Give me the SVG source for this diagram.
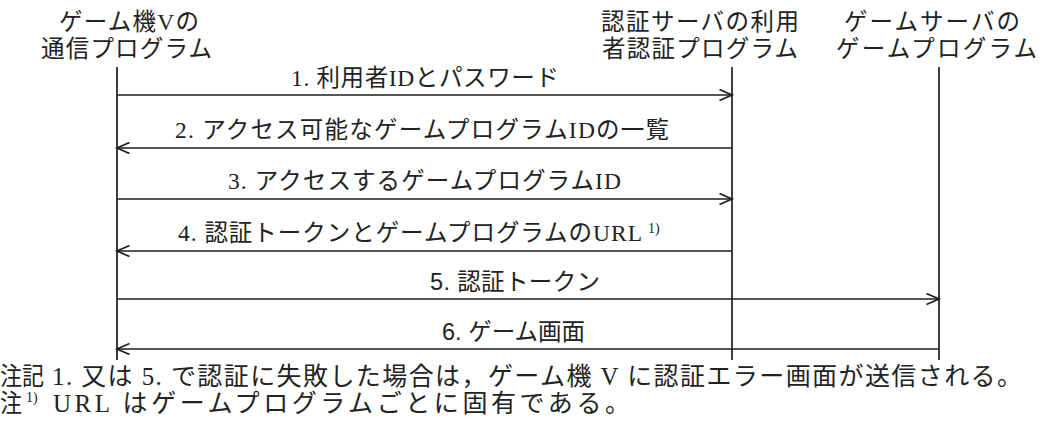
<svg xmlns="http://www.w3.org/2000/svg" width="1040" height="432" viewBox="0 0 1040 432">
  <style>
    .bg { fill: #ffffff; }
    .life { stroke: #1e1e1e; stroke-width: 1.7; fill: none; }
    .msg { stroke: #1e1e1e; stroke-width: 1.7; fill: none; }
    .t { font-family: "Liberation Serif", "Noto Sans CJK JP", serif; font-size: 23.5px; fill: #222; }
    .ts { font-family: "Liberation Sans", "Noto Sans CJK JP", sans-serif; font-size: 23.5px; fill: #222; }
    .n { font-family: "Liberation Serif", "Noto Sans CJK JP", serif; font-size: 25px; fill: #222; }
    .sup { font-family: "Liberation Serif", "Noto Sans CJK JP", serif; font-size: 14px; fill: #222; }
  </style>
  <defs>
    <marker id="arr" markerUnits="userSpaceOnUse" markerWidth="16" markerHeight="14" refX="13" refY="6" orient="auto">
      <path d="M0.5,0.5 L13,6 L0.5,11.5" fill="none" stroke="#1e1e1e" stroke-width="1.7"/>
    </marker>
  </defs>
  <rect class="bg" x="0" y="0" width="1040" height="432"/>

  <g id="game-console">
    <text class="t" x="59" y="30" textLength="140" lengthAdjust="spacing">ゲーム機Vの</text>
    <text class="t" x="41" y="57" textLength="171" lengthAdjust="spacing">通信プログラム</text>
    <line class="life" x1="117" y1="67" x2="117" y2="360"/>
  </g>

  <g id="auth-server">
    <text class="t" x="601" y="30" textLength="198" lengthAdjust="spacing">認証サーバの利用</text>
    <text class="t" x="602" y="57" textLength="196" lengthAdjust="spacing">者認証プログラム</text>
    <line class="life" x1="732" y1="67" x2="732" y2="360"/>
  </g>

  <g id="game-server">
    <text class="t" x="844" y="30" textLength="176" lengthAdjust="spacing">ゲームサーバの</text>
    <text class="t" x="836" y="57" textLength="201" lengthAdjust="spacing">ゲームプログラム</text>
    <line class="life" x1="939" y1="67" x2="939" y2="360"/>
  </g>

  <g id="connectors">
    <line class="msg" x1="117" y1="95" x2="732" y2="95" marker-end="url(#arr)"/>
    <text class="t" x="291" y="86" textLength="268" lengthAdjust="spacing">1. 利用者IDとパスワード</text>

    <line class="msg" x1="732" y1="148" x2="117" y2="148" marker-end="url(#arr)"/>
    <text class="t" x="175" y="138" textLength="494" lengthAdjust="spacing">2. アクセス可能なゲームプログラムIDの一覧</text>

    <line class="msg" x1="117" y1="199" x2="732" y2="199" marker-end="url(#arr)"/>
    <text class="t" x="228" y="189" textLength="393" lengthAdjust="spacing">3. アクセスするゲームプログラムID</text>

    <line class="msg" x1="732" y1="251" x2="117" y2="251" marker-end="url(#arr)"/>
    <text class="t" x="178" y="241" textLength="464" lengthAdjust="spacing">4. 認証トークンとゲームプログラムのURL</text>
    <text class="sup" x="648" y="233">1)</text>

    <line class="msg" x1="117" y1="299" x2="939" y2="299" marker-end="url(#arr)"/>
    <text class="ts" x="430" y="290" textLength="170" lengthAdjust="spacing">5. 認証トークン</text>

    <line class="msg" x1="939" y1="349" x2="117" y2="349" marker-end="url(#arr)"/>
    <text class="ts" x="442" y="340" textLength="143" lengthAdjust="spacing">6. ゲーム画面</text>
  </g>

  <g id="notes">
    <text class="n" x="0" y="385" textLength="44" lengthAdjust="spacingAndGlyphs">注記</text>
    <text class="n" x="52" y="385" textLength="970" lengthAdjust="spacing">1. 又は 5. で認証に失敗した場合は，ゲーム機 V に認証エラー画面が送信される。</text>
    <text class="n" x="0" y="412" textLength="22" lengthAdjust="spacingAndGlyphs">注</text>
    <text class="sup" x="26" y="402">1)</text>
    <text class="n" x="53" y="412" textLength="577" lengthAdjust="spacing">URL はゲームプログラムごとに固有である。</text>
  </g>
</svg>
